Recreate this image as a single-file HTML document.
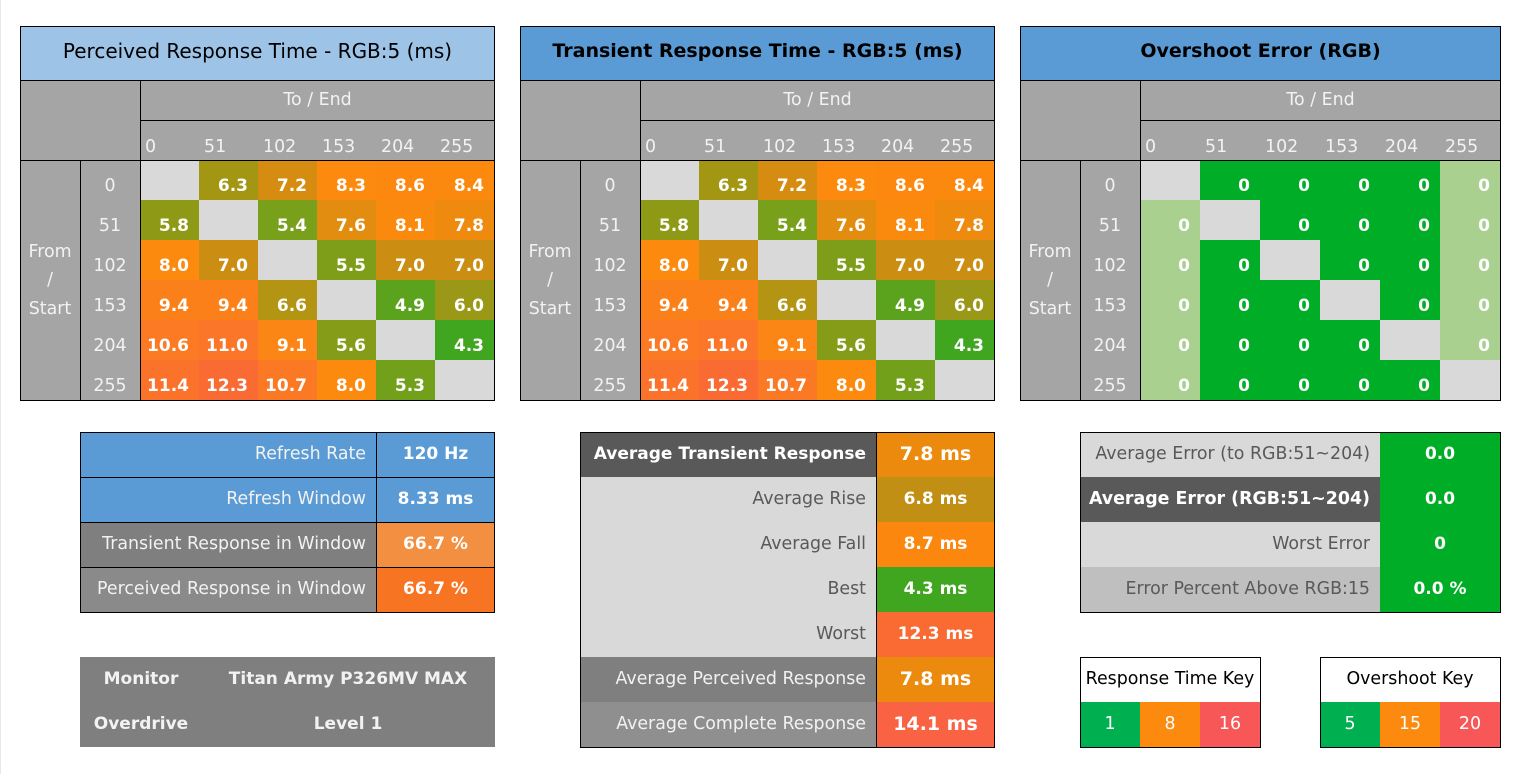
<!DOCTYPE html>
<html><head><meta charset="utf-8">
<style>
html,body{margin:0;padding:0;background:#fff}
body{width:1521px;height:774px;position:relative;overflow:hidden;font-family:"DejaVu Sans","Liberation Sans",sans-serif;font-size:17.4px}
.a{position:absolute;box-sizing:border-box;white-space:nowrap}
.d{height:40px;width:59px;font-weight:bold;color:#fff;text-align:right;padding-right:10px;line-height:52px;font-size:17px}
.e{width:60px}
.hl{height:1px;background:#000}
.vl{width:1px;background:#000}
.hn{top:120px;height:40px;line-height:54px;color:#f2f2f2;padding-left:5px}
.rl{width:60px;height:40px;line-height:52px;text-align:center;color:#f2f2f2}
.fs{width:60px;line-height:28.5px;text-align:center;color:#f2f2f2}
.te{top:80px;height:40px;line-height:40px;text-align:center;color:#f2f2f2}
.tt{top:26px;height:54px;line-height:50px;text-align:center;color:#000}
.r45{height:45px;line-height:44px}
.lab{text-align:right;padding-right:10px}
.val{text-align:center;font-weight:bold;color:#fff;font-size:17px}
</style></head><body>
<div class="a" style="left:0;top:0;width:1px;height:774px;background:#e8e8e8"></div>

<!-- ===== TABLE 1 ===== -->
<div class="a" style="left:20px;top:26px;width:475px;height:54px;background:#9dc3e6"></div>
<div class="a" style="left:20px;top:80px;width:475px;height:80px;background:#a5a5a5"></div>
<div class="a" style="left:20px;top:160px;width:120px;height:240px;background:#a5a5a5"></div>
<div class="a tt" style="left:20px;width:475px;font-size:20px">Perceived Response Time - RGB:5 (ms)</div>
<div class="a te" style="left:140px;width:355px">To / End</div>
<div class="a hn" style="left:140px">0</div>
<div class="a hn" style="left:199px">51</div>
<div class="a hn" style="left:258px">102</div>
<div class="a hn" style="left:317px">153</div>
<div class="a hn" style="left:376px">204</div>
<div class="a hn" style="left:435px">255</div>
<div class="a fs" style="left:20px;top:237.75px">From<br>/<br>Start</div>
<div class="a rl" style="left:80px;top:160px">0</div>
<div class="a rl" style="left:80px;top:200px">51</div>
<div class="a rl" style="left:80px;top:240px">102</div>
<div class="a rl" style="left:80px;top:280px">153</div>
<div class="a rl" style="left:80px;top:320px">204</div>
<div class="a rl" style="left:80px;top:360px">255</div>

<div class="a d" style="left:140px;top:160px;background:#d9d9d9"></div>
<div class="a d" style="left:199px;top:160px;background:#a29612">6.3</div>
<div class="a d" style="left:258px;top:160px;background:#d58c10">7.2</div>
<div class="a d" style="left:317px;top:160px;background:#fb8a0e">8.3</div>
<div class="a d" style="left:376px;top:160px;background:#fc880f">8.6</div>
<div class="a d" style="left:435px;top:160px;background:#fb890e">8.4</div>

<div class="a d" style="left:140px;top:200px;background:#8e9916">5.8</div>
<div class="a d" style="left:199px;top:200px;background:#d9d9d9"></div>
<div class="a d" style="left:258px;top:200px;background:#78a01a">5.4</div>
<div class="a d" style="left:317px;top:200px;background:#e28c10">7.6</div>
<div class="a d" style="left:376px;top:200px;background:#fa8a0e">8.1</div>
<div class="a d" style="left:435px;top:200px;background:#ee8b0f">7.8</div>

<div class="a d" style="left:140px;top:240px;background:#fb8a0e">8.0</div>
<div class="a d" style="left:199px;top:240px;background:#cc8e12">7.0</div>
<div class="a d" style="left:258px;top:240px;background:#d9d9d9"></div>
<div class="a d" style="left:317px;top:240px;background:#7e9e19">5.5</div>
<div class="a d" style="left:376px;top:240px;background:#cc8e12">7.0</div>
<div class="a d" style="left:435px;top:240px;background:#cc8e12">7.0</div>

<div class="a d" style="left:140px;top:280px;background:#fb8019">9.4</div>
<div class="a d" style="left:199px;top:280px;background:#fb8019">9.4</div>
<div class="a d" style="left:258px;top:280px;background:#b39413">6.6</div>
<div class="a d" style="left:317px;top:280px;background:#d9d9d9"></div>
<div class="a d" style="left:376px;top:280px;background:#5ca31d">4.9</div>
<div class="a d" style="left:435px;top:280px;background:#9a9816">6.0</div>

<div class="a d" style="left:140px;top:320px;background:#fb7a23">10.6</div>
<div class="a d" style="left:199px;top:320px;background:#fb7628">11.0</div>
<div class="a d" style="left:258px;top:320px;background:#fc8615">9.1</div>
<div class="a d" style="left:317px;top:320px;background:#849c18">5.6</div>
<div class="a d" style="left:376px;top:320px;background:#d9d9d9"></div>
<div class="a d" style="left:435px;top:320px;background:#40a51f">4.3</div>

<div class="a d" style="left:140px;top:360px;background:#fb722b">11.4</div>
<div class="a d" style="left:199px;top:360px;background:#fa6a33">12.3</div>
<div class="a d" style="left:258px;top:360px;background:#fb7924">10.7</div>
<div class="a d" style="left:317px;top:360px;background:#fb8a0e">8.0</div>
<div class="a d" style="left:376px;top:360px;background:#72a01a">5.3</div>
<div class="a d" style="left:435px;top:360px;background:#d9d9d9"></div>

<div class="a hl" style="left:20px;top:26px;width:475px"></div>
<div class="a hl" style="left:20px;top:400px;width:475px"></div>
<div class="a vl" style="left:20px;top:26px;height:375px"></div>
<div class="a vl" style="left:494px;top:26px;height:375px"></div>
<div class="a hl" style="left:20px;top:80px;width:475px"></div>
<div class="a hl" style="left:20px;top:160px;width:475px"></div>
<div class="a hl" style="left:140px;top:120px;width:355px"></div>
<div class="a vl" style="left:140px;top:80px;height:320px"></div>
<div class="a vl" style="left:80px;top:160px;height:240px"></div>

<!-- ===== TABLE 2 ===== -->
<div class="a" style="left:520px;top:26px;width:475px;height:54px;background:#5b9bd5"></div>
<div class="a" style="left:520px;top:80px;width:475px;height:80px;background:#a5a5a5"></div>
<div class="a" style="left:520px;top:160px;width:120px;height:240px;background:#a5a5a5"></div>
<div class="a tt" style="left:520px;width:475px;font-size:19px;font-weight:bold">Transient Response Time - RGB:5 (ms)</div>
<div class="a te" style="left:640px;width:355px">To / End</div>
<div class="a hn" style="left:640px">0</div>
<div class="a hn" style="left:699px">51</div>
<div class="a hn" style="left:758px">102</div>
<div class="a hn" style="left:817px">153</div>
<div class="a hn" style="left:876px">204</div>
<div class="a hn" style="left:935px">255</div>
<div class="a fs" style="left:520px;top:237.75px">From<br>/<br>Start</div>
<div class="a rl" style="left:580px;top:160px">0</div>
<div class="a rl" style="left:580px;top:200px">51</div>
<div class="a rl" style="left:580px;top:240px">102</div>
<div class="a rl" style="left:580px;top:280px">153</div>
<div class="a rl" style="left:580px;top:320px">204</div>
<div class="a rl" style="left:580px;top:360px">255</div>

<div class="a d" style="left:640px;top:160px;background:#d9d9d9"></div>
<div class="a d" style="left:699px;top:160px;background:#a29612">6.3</div>
<div class="a d" style="left:758px;top:160px;background:#d58c10">7.2</div>
<div class="a d" style="left:817px;top:160px;background:#fb8a0e">8.3</div>
<div class="a d" style="left:876px;top:160px;background:#fc880f">8.6</div>
<div class="a d" style="left:935px;top:160px;background:#fb890e">8.4</div>

<div class="a d" style="left:640px;top:200px;background:#8e9916">5.8</div>
<div class="a d" style="left:699px;top:200px;background:#d9d9d9"></div>
<div class="a d" style="left:758px;top:200px;background:#78a01a">5.4</div>
<div class="a d" style="left:817px;top:200px;background:#e28c10">7.6</div>
<div class="a d" style="left:876px;top:200px;background:#fa8a0e">8.1</div>
<div class="a d" style="left:935px;top:200px;background:#ee8b0f">7.8</div>

<div class="a d" style="left:640px;top:240px;background:#fb8a0e">8.0</div>
<div class="a d" style="left:699px;top:240px;background:#cc8e12">7.0</div>
<div class="a d" style="left:758px;top:240px;background:#d9d9d9"></div>
<div class="a d" style="left:817px;top:240px;background:#7e9e19">5.5</div>
<div class="a d" style="left:876px;top:240px;background:#cc8e12">7.0</div>
<div class="a d" style="left:935px;top:240px;background:#cc8e12">7.0</div>

<div class="a d" style="left:640px;top:280px;background:#fb8019">9.4</div>
<div class="a d" style="left:699px;top:280px;background:#fb8019">9.4</div>
<div class="a d" style="left:758px;top:280px;background:#b39413">6.6</div>
<div class="a d" style="left:817px;top:280px;background:#d9d9d9"></div>
<div class="a d" style="left:876px;top:280px;background:#5ca31d">4.9</div>
<div class="a d" style="left:935px;top:280px;background:#9a9816">6.0</div>

<div class="a d" style="left:640px;top:320px;background:#fb7a23">10.6</div>
<div class="a d" style="left:699px;top:320px;background:#fb7628">11.0</div>
<div class="a d" style="left:758px;top:320px;background:#fc8615">9.1</div>
<div class="a d" style="left:817px;top:320px;background:#849c18">5.6</div>
<div class="a d" style="left:876px;top:320px;background:#d9d9d9"></div>
<div class="a d" style="left:935px;top:320px;background:#40a51f">4.3</div>

<div class="a d" style="left:640px;top:360px;background:#fb722b">11.4</div>
<div class="a d" style="left:699px;top:360px;background:#fa6a33">12.3</div>
<div class="a d" style="left:758px;top:360px;background:#fb7924">10.7</div>
<div class="a d" style="left:817px;top:360px;background:#fb8a0e">8.0</div>
<div class="a d" style="left:876px;top:360px;background:#72a01a">5.3</div>
<div class="a d" style="left:935px;top:360px;background:#d9d9d9"></div>

<div class="a hl" style="left:520px;top:26px;width:475px"></div>
<div class="a hl" style="left:520px;top:400px;width:475px"></div>
<div class="a vl" style="left:520px;top:26px;height:375px"></div>
<div class="a vl" style="left:994px;top:26px;height:375px"></div>
<div class="a hl" style="left:520px;top:80px;width:475px"></div>
<div class="a hl" style="left:520px;top:160px;width:475px"></div>
<div class="a hl" style="left:640px;top:120px;width:355px"></div>
<div class="a vl" style="left:640px;top:80px;height:320px"></div>
<div class="a vl" style="left:580px;top:160px;height:240px"></div>

<!-- ===== TABLE 3 ===== -->
<div class="a" style="left:1020px;top:26px;width:481px;height:54px;background:#5b9bd5"></div>
<div class="a" style="left:1020px;top:80px;width:481px;height:80px;background:#a5a5a5"></div>
<div class="a" style="left:1020px;top:160px;width:120px;height:240px;background:#a5a5a5"></div>
<div class="a tt" style="left:1020px;width:481px;font-size:19px;font-weight:bold">Overshoot Error (RGB)</div>
<div class="a te" style="left:1140px;width:361px">To / End</div>
<div class="a hn" style="left:1140px">0</div>
<div class="a hn" style="left:1200px">51</div>
<div class="a hn" style="left:1260px">102</div>
<div class="a hn" style="left:1320px">153</div>
<div class="a hn" style="left:1380px">204</div>
<div class="a hn" style="left:1440px">255</div>
<div class="a fs" style="left:1020px;top:237.75px">From<br>/<br>Start</div>
<div class="a rl" style="left:1080px;top:160px">0</div>
<div class="a rl" style="left:1080px;top:200px">51</div>
<div class="a rl" style="left:1080px;top:240px">102</div>
<div class="a rl" style="left:1080px;top:280px">153</div>
<div class="a rl" style="left:1080px;top:320px">204</div>
<div class="a rl" style="left:1080px;top:360px">255</div>

<div class="a d e" style="left:1140px;top:160px;background:#d9d9d9"></div>
<div class="a d e" style="left:1200px;top:160px;background:#00ad26">0</div>
<div class="a d e" style="left:1260px;top:160px;background:#00ad26">0</div>
<div class="a d e" style="left:1320px;top:160px;background:#00ad26">0</div>
<div class="a d e" style="left:1380px;top:160px;background:#00ad26">0</div>
<div class="a d e" style="left:1440px;top:160px;background:#a9d08e">0</div>

<div class="a d e" style="left:1140px;top:200px;background:#a9d08e">0</div>
<div class="a d e" style="left:1200px;top:200px;background:#d9d9d9"></div>
<div class="a d e" style="left:1260px;top:200px;background:#00ad26">0</div>
<div class="a d e" style="left:1320px;top:200px;background:#00ad26">0</div>
<div class="a d e" style="left:1380px;top:200px;background:#00ad26">0</div>
<div class="a d e" style="left:1440px;top:200px;background:#a9d08e">0</div>

<div class="a d e" style="left:1140px;top:240px;background:#a9d08e">0</div>
<div class="a d e" style="left:1200px;top:240px;background:#00ad26">0</div>
<div class="a d e" style="left:1260px;top:240px;background:#d9d9d9"></div>
<div class="a d e" style="left:1320px;top:240px;background:#00ad26">0</div>
<div class="a d e" style="left:1380px;top:240px;background:#00ad26">0</div>
<div class="a d e" style="left:1440px;top:240px;background:#a9d08e">0</div>

<div class="a d e" style="left:1140px;top:280px;background:#a9d08e">0</div>
<div class="a d e" style="left:1200px;top:280px;background:#00ad26">0</div>
<div class="a d e" style="left:1260px;top:280px;background:#00ad26">0</div>
<div class="a d e" style="left:1320px;top:280px;background:#d9d9d9"></div>
<div class="a d e" style="left:1380px;top:280px;background:#00ad26">0</div>
<div class="a d e" style="left:1440px;top:280px;background:#a9d08e">0</div>

<div class="a d e" style="left:1140px;top:320px;background:#a9d08e">0</div>
<div class="a d e" style="left:1200px;top:320px;background:#00ad26">0</div>
<div class="a d e" style="left:1260px;top:320px;background:#00ad26">0</div>
<div class="a d e" style="left:1320px;top:320px;background:#00ad26">0</div>
<div class="a d e" style="left:1380px;top:320px;background:#d9d9d9"></div>
<div class="a d e" style="left:1440px;top:320px;background:#a9d08e">0</div>

<div class="a d e" style="left:1140px;top:360px;background:#a9d08e">0</div>
<div class="a d e" style="left:1200px;top:360px;background:#00ad26">0</div>
<div class="a d e" style="left:1260px;top:360px;background:#00ad26">0</div>
<div class="a d e" style="left:1320px;top:360px;background:#00ad26">0</div>
<div class="a d e" style="left:1380px;top:360px;background:#00ad26">0</div>
<div class="a d e" style="left:1440px;top:360px;background:#d9d9d9"></div>

<div class="a hl" style="left:1020px;top:26px;width:481px"></div>
<div class="a hl" style="left:1020px;top:400px;width:481px"></div>
<div class="a vl" style="left:1020px;top:26px;height:375px"></div>
<div class="a vl" style="left:1500px;top:26px;height:375px"></div>
<div class="a hl" style="left:1020px;top:80px;width:481px"></div>
<div class="a hl" style="left:1020px;top:160px;width:481px"></div>
<div class="a hl" style="left:1140px;top:120px;width:361px"></div>
<div class="a vl" style="left:1140px;top:80px;height:320px"></div>
<div class="a vl" style="left:1080px;top:160px;height:240px"></div>

<!-- ===== LEFT INFO PANEL ===== -->
<div class="a r45 lab" style="left:80px;top:432px;width:296px;background:#5b9bd5;color:#f2f2f2">Refresh Rate</div>
<div class="a r45 val" style="left:376px;top:432px;width:119px;background:#5b9bd5">120 Hz</div>
<div class="a r45 lab" style="left:80px;top:477px;width:296px;background:#5b9bd5;color:#f2f2f2">Refresh Window</div>
<div class="a r45 val" style="left:376px;top:477px;width:119px;background:#5b9bd5">8.33 ms</div>
<div class="a r45 lab" style="left:80px;top:522px;width:296px;background:#7f7f7f;color:#f2f2f2">Transient Response in Window</div>
<div class="a r45 val" style="left:376px;top:522px;width:119px;background:#f28f40">66.7 %</div>
<div class="a r45 lab" style="left:80px;top:567px;width:296px;background:#8a8a8a;color:#f2f2f2">Perceived Response in Window</div>
<div class="a r45 val" style="left:376px;top:567px;width:119px;background:#f77522">66.7 %</div>
<div class="a hl" style="left:80px;top:432px;width:415px"></div>
<div class="a hl" style="left:80px;top:477px;width:415px"></div>
<div class="a hl" style="left:80px;top:522px;width:415px"></div>
<div class="a hl" style="left:80px;top:567px;width:415px"></div>
<div class="a hl" style="left:80px;top:612px;width:415px"></div>
<div class="a vl" style="left:80px;top:432px;height:181px"></div>
<div class="a vl" style="left:494px;top:432px;height:181px"></div>
<div class="a vl" style="left:376px;top:432px;height:181px"></div>

<!-- Monitor panel -->
<div class="a" style="left:80px;top:657px;width:415px;height:90px;background:#7f7f7f"></div>
<div class="a r45 val" style="left:80px;top:657px;width:122px;color:#f2f2f2">Monitor</div>
<div class="a r45 val" style="left:80px;top:702px;width:122px;color:#f2f2f2">Overdrive</div>
<div class="a r45 val" style="left:202px;top:657px;width:292px;color:#f2f2f2">Titan Army P326MV MAX</div>
<div class="a r45 val" style="left:202px;top:702px;width:292px;color:#f2f2f2">Level 1</div>

<!-- ===== MIDDLE PANEL ===== -->
<div class="a r45 lab" style="left:580px;top:432px;width:296px;background:#595959;color:#fff;font-weight:bold;font-size:17px">Average Transient Response</div>
<div class="a r45 val" style="left:876px;top:432px;width:119px;background:#ec8a0e;font-size:19px">7.8 ms</div>
<div class="a r45 lab" style="left:580px;top:477px;width:296px;background:#d9d9d9;color:#595959">Average Rise</div>
<div class="a r45 val" style="left:876px;top:477px;width:119px;background:#c08f13">6.8 ms</div>
<div class="a r45 lab" style="left:580px;top:522px;width:296px;background:#d9d9d9;color:#595959">Average Fall</div>
<div class="a r45 val" style="left:876px;top:522px;width:119px;background:#fb870f">8.7 ms</div>
<div class="a r45 lab" style="left:580px;top:567px;width:296px;background:#d9d9d9;color:#595959">Best</div>
<div class="a r45 val" style="left:876px;top:567px;width:119px;background:#41a61f">4.3 ms</div>
<div class="a r45 lab" style="left:580px;top:612px;width:296px;background:#d9d9d9;color:#595959">Worst</div>
<div class="a r45 val" style="left:876px;top:612px;width:119px;background:#fa6b33">12.3 ms</div>
<div class="a r45 lab" style="left:580px;top:657px;width:296px;background:#7f7f7f;color:#f2f2f2">Average Perceived Response</div>
<div class="a r45 val" style="left:876px;top:657px;width:119px;background:#ec8a0e;font-size:19px">7.8 ms</div>
<div class="a r45 lab" style="left:580px;top:702px;width:296px;background:#8f8f8f;color:#f2f2f2">Average Complete Response</div>
<div class="a r45 val" style="left:876px;top:702px;width:119px;background:#f96243;font-size:19px">14.1 ms</div>
<div class="a hl" style="left:580px;top:432px;width:415px"></div>
<div class="a hl" style="left:580px;top:747px;width:415px"></div>
<div class="a vl" style="left:580px;top:432px;height:316px"></div>
<div class="a vl" style="left:994px;top:432px;height:316px"></div>
<div class="a vl" style="left:876px;top:432px;height:316px"></div>

<!-- ===== RIGHT PANEL ===== -->
<div class="a r45 lab" style="left:1080px;top:432px;width:300px;background:#d9d9d9;color:#595959">Average Error (to RGB:51~204)</div>
<div class="a r45 lab" style="left:1080px;top:477px;width:300px;background:#595959;color:#fff;font-weight:bold">Average Error (RGB:51~204)</div>
<div class="a r45 lab" style="left:1080px;top:522px;width:300px;background:#d9d9d9;color:#595959">Worst Error</div>
<div class="a r45 lab" style="left:1080px;top:567px;width:300px;background:#bfbfbf;color:#595959">Error Percent Above RGB:15</div>
<div class="a" style="left:1380px;top:432px;width:121px;height:181px;background:#00ad26"></div>
<div class="a r45 val" style="left:1380px;top:432px;width:120px">0.0</div>
<div class="a r45 val" style="left:1380px;top:477px;width:120px">0.0</div>
<div class="a r45 val" style="left:1380px;top:522px;width:120px">0</div>
<div class="a r45 val" style="left:1380px;top:567px;width:120px">0.0 %</div>
<div class="a hl" style="left:1080px;top:432px;width:421px"></div>
<div class="a hl" style="left:1080px;top:612px;width:421px"></div>
<div class="a vl" style="left:1080px;top:432px;height:181px"></div>
<div class="a vl" style="left:1500px;top:432px;height:181px"></div>

<!-- Keys -->
<div class="a r45" style="left:1080px;top:657px;width:180px;text-align:center;color:#000;background:#fff">Response Time Key</div>
<div class="a r45" style="left:1080px;top:702px;width:60px;text-align:center;color:#fff;background:#00b050">1</div>
<div class="a r45" style="left:1140px;top:702px;width:60px;text-align:center;color:#fff;background:#fb8a0e">8</div>
<div class="a r45" style="left:1200px;top:702px;width:60px;text-align:center;color:#fff;background:#f85757">16</div>
<div class="a hl" style="left:1080px;top:657px;width:181px"></div>
<div class="a hl" style="left:1080px;top:747px;width:181px"></div>
<div class="a vl" style="left:1080px;top:657px;height:91px"></div>
<div class="a vl" style="left:1260px;top:657px;height:91px"></div>

<div class="a r45" style="left:1320px;top:657px;width:180px;text-align:center;color:#000;background:#fff">Overshoot Key</div>
<div class="a r45" style="left:1320px;top:702px;width:60px;text-align:center;color:#fff;background:#00b050">5</div>
<div class="a r45" style="left:1380px;top:702px;width:60px;text-align:center;color:#fff;background:#fb8a0e">15</div>
<div class="a r45" style="left:1440px;top:702px;width:60px;text-align:center;color:#fff;background:#f85757">20</div>
<div class="a hl" style="left:1320px;top:657px;width:181px"></div>
<div class="a hl" style="left:1320px;top:747px;width:181px"></div>
<div class="a vl" style="left:1320px;top:657px;height:91px"></div>
<div class="a vl" style="left:1500px;top:657px;height:91px"></div>

</body></html>
